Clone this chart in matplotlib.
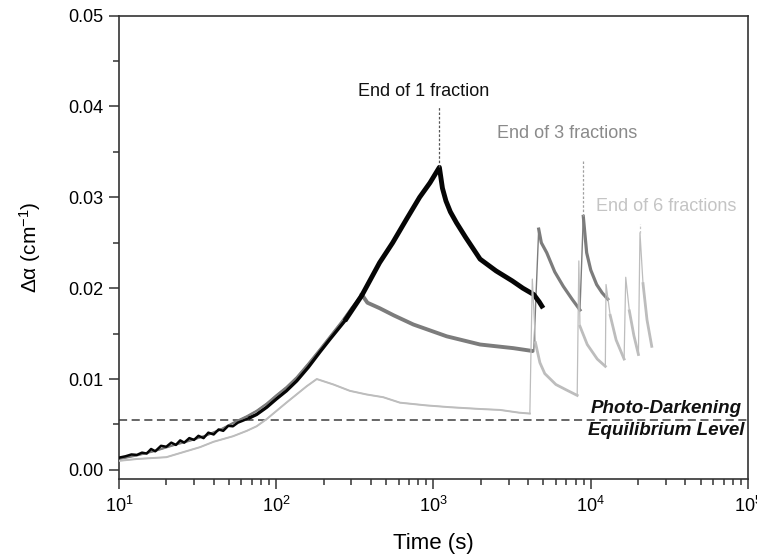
import numpy as np
import matplotlib.pyplot as plt
from matplotlib.ticker import MultipleLocator, LogLocator, NullFormatter

plt.rcParams['font.family'] = ['Liberation Sans', 'DejaVu Sans']
plt.rcParams['mathtext.fontset'] = 'custom'
plt.rcParams['mathtext.rm'] = 'Liberation Sans'
plt.rcParams['mathtext.it'] = 'Liberation Sans:italic'

# 1 fraction (black)
t_1frac = [10, 11, 12, 13, 14, 15, 16, 17, 18.5, 20,
           21.5, 23, 24.5, 26, 28, 30, 32, 34.5, 37, 40,
           43, 46, 49.5, 53, 57, 61, 68, 75, 87, 100,
           116, 135, 160, 190, 220, 273, 350, 454, 550, 674,
           816, 950, 1090, 1140, 1200, 1280, 1400, 1600, 1978, 2500,
           3170, 3700, 4340, 4700, 4980]
d_1frac = [0.00135, 0.00150, 0.00170, 0.00165, 0.00190, 0.00180, 0.00230, 0.00205, 0.00265, 0.00255,
           0.00300, 0.00275, 0.00325, 0.00300, 0.00350, 0.00330, 0.00375, 0.00350, 0.00410, 0.00390,
           0.00445, 0.00430, 0.00485, 0.00480, 0.00520, 0.00540, 0.00575, 0.00610, 0.00690, 0.00780,
           0.00870, 0.00980, 0.01130, 0.01300, 0.01440, 0.01640, 0.01920, 0.02280, 0.02500, 0.02760,
           0.03000, 0.03160, 0.03330, 0.03100, 0.02960, 0.02840, 0.02720, 0.02560, 0.02320, 0.02190,
           0.02080, 0.02000, 0.01930, 0.01850, 0.01780]

# 3 fractions (dark grey)
t_3frac = [10, 13, 17, 22, 28, 36, 45, 55, 65, 75,
           87, 100, 116, 135, 160, 190, 220, 260, 300, 350,
           380, 454, 560, 745, 1214, 1978, 3217, 4212, 4340, 4667,
           4850, 5250, 5900, 6690, 7600, 8543, 8967,
           9200, 9420, 10000, 10900, 11800, 12820]
d_3frac = [0.0012, 0.0016, 0.0021, 0.0027, 0.0032, 0.0038, 0.0045, 0.0053, 0.0059, 0.0065,
           0.0073, 0.0082, 0.0091, 0.0102, 0.0117, 0.0133, 0.0147, 0.0163, 0.0178, 0.0193,
           0.0184, 0.0178, 0.0170, 0.0160, 0.0147, 0.0138, 0.0134, 0.0131, 0.0130, 0.0265,
           0.0250, 0.0239, 0.0218, 0.0202, 0.0188, 0.0176, 0.0279,
           0.0258, 0.0239, 0.0220, 0.0204, 0.0195, 0.0188]

# 6 fractions (light grey)
t_6frac = [10, 13, 20, 25, 32.7, 40, 53, 65, 75, 87,
           116, 156, 181, 231, 294, 376, 479, 612, 900, 1274,
           2000, 2650, 3500, 4100, 4250, 4450, 4750, 5100, 6000, 7000,
           8200, 8400, 8543, 9500, 11000, 12380, 12510, 13300, 14500, 16300,
           16690, 17600, 18800, 20100, 20560, 21500, 22800, 24430]
d_6frac = [0.0010, 0.0012, 0.0014, 0.0019, 0.0025, 0.0031, 0.0037, 0.0043, 0.0048, 0.0056,
           0.0074, 0.0092, 0.0100, 0.0094, 0.0087, 0.0083, 0.0080, 0.0074, 0.0071, 0.0069,
           0.0067, 0.0066, 0.0063, 0.0062, 0.0210, 0.0140, 0.0118, 0.0106, 0.0094, 0.0088,
           0.0082, 0.0230, 0.0158, 0.0138, 0.0122, 0.0114, 0.0204, 0.0170, 0.0143, 0.0122,
           0.0212, 0.0175, 0.0148, 0.0127, 0.0261, 0.0205, 0.0165, 0.0136]

equilibrium = 0.00546
end_times = [1090, 8967, 20560]
end_peaks = [0.0333, 0.0279, 0.0261]
end_tops = [0.0399, 0.0341, 0.0271]
end_labels = ['End of 1 fraction', 'End of 3 fractions', 'End of 6 fractions']

c_black = '#050505'
c_dark = '#7c7c7c'
c_light = '#bdbdbd'

fig = plt.figure(figsize=(7.57, 5.56), dpi=100)
ax = fig.add_axes([0.1572, 0.1385, 0.8309, 0.8335])

t1, d1 = np.array(t_1frac), np.array(d_1frac)
t3, d3 = np.array(t_3frac), np.array(d_3frac)
t6, d6 = np.array(t_6frac), np.array(d_6frac)

# thin full traces, thicker where the measured signal is noisy
ax.plot(t3, d3, color=c_dark, lw=1.0, zorder=2.5)
ax.plot(t3[:20], d3[:20], color=c_dark, lw=1.6, zorder=2.5)
ax.plot(t3[19:28], d3[19:28], color=c_dark, lw=2.8, zorder=2.5)
ax.plot(t3[29:36], d3[29:36], color=c_dark, lw=2.3, zorder=2.5)
ax.plot(t3[36:], d3[36:], color=c_dark, lw=2.3, zorder=2.5)

ax.plot(t1[:27], d1[:27], color=c_black, lw=1.8, zorder=3)
ax.plot(t1[26:36], d1[26:36], color=c_black, lw=2.4, zorder=3)
ax.plot(t1[35:], d1[35:], color=c_black, lw=3.5, zorder=3, solid_capstyle='butt')

ax.plot(t6, d6, color=c_light, lw=0.9, zorder=4)
ax.plot(t6[:24], d6[:24], color=c_light, lw=1.4, zorder=4)
for a, b in [(24, 31), (31, 36), (36, 40), (40, 44), (44, 48)]:
    ax.plot(t6[a + 1:b], d6[a + 1:b], color=c_light, lw=2.0, zorder=4)

ax.axhline(equilibrium, color='#5a5a5a', lw=1.3, ls=(0, (4.5, 2.5)), zorder=1)

label_colors = ['#111111', '#8a8a8a', '#c4c4c4']
line_colors = ['#555555', '#a0a0a0', '#c8c8c8']
label_pos = [(866, 0.04165), (7112, 0.0370), (29990, 0.0290)]
for i in range(3):
    ax.plot([end_times[i], end_times[i]], [end_peaks[i], end_tops[i]],
            color=line_colors[i], lw=0.9, ls=(0, (2, 1.5)), zorder=5)
    ax.text(label_pos[i][0], label_pos[i][1], end_labels[i], color=label_colors[i],
            fontsize=13, ha='center', va='center')

ax.text(0.99, 0.00675, 'Photo-Darkening', transform=ax.get_yaxis_transform(),
        ha='right', va='center', fontsize=13.5, fontweight='bold', fontstyle='italic', color='#111111')
ax.text(0.995, 0.00429, 'Equilibrium Level', transform=ax.get_yaxis_transform(),
        ha='right', va='center', fontsize=13.5, fontweight='bold', fontstyle='italic', color='#111111')

ax.set_xscale('log')
ax.set_xlim(10, 1e5)
ax.set_ylim(-0.001, 0.05)
ax.yaxis.set_major_locator(MultipleLocator(0.01))
ax.yaxis.set_minor_locator(MultipleLocator(0.005))
ax.yaxis.set_major_formatter(plt.FormatStrFormatter('%.2f'))
ax.xaxis.set_minor_locator(LogLocator(base=10, subs=np.arange(2, 10)))
ax.xaxis.set_minor_formatter(NullFormatter())

ax.tick_params(which='major', direction='out', length=7.5, width=1.1, labelsize=13, pad=3.5, color='#333333')
ax.tick_params(which='major', axis='x', pad=5)
ax.tick_params(which='minor', direction='out', length=4, width=1.1, color='#333333')
for s in ax.spines.values():
    s.set_linewidth(1.2)
    s.set_color('#333333')

ax.set_xlabel('Time (s)', fontsize=16, labelpad=12)
ax.set_ylabel('Δα (cm$^{-1}$)', fontsize=15, labelpad=18)

fig.savefig('out.png', dpi=100)
